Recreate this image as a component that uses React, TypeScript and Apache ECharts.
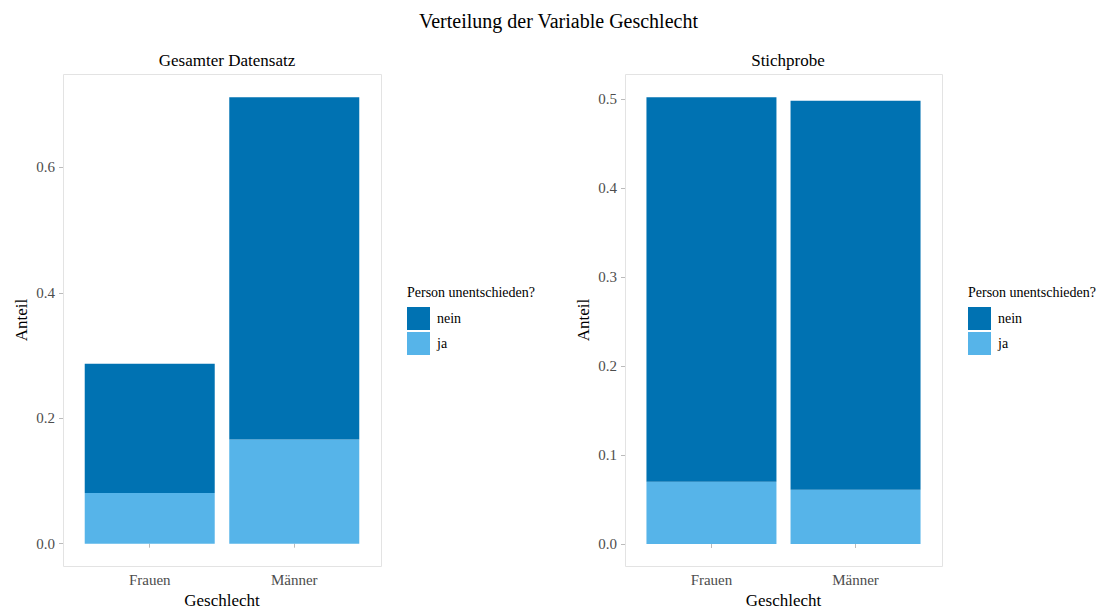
import React, { useEffect, useRef } from "react";
import * as echarts from "echarts";

const categories = ["Frauen", "Männer"];
const legendNames = ["nein", "ja"];
const gesamtJa = [0.081, 0.166];
const gesamtNein = [0.206, 0.546];
const stichJa = [0.07, 0.061];
const stichNein = [0.432, 0.437];
const gesamtTicks = [0, 0.2, 0.4, 0.6];
const stichTicks = [0, 0.1, 0.2, 0.3, 0.4, 0.5];

const DARK = "#0072B2";
const LIGHT = "#56B4E9";
const FONT = "'Liberation Serif', 'DejaVu Serif', serif";

export default function App() {
  const ref = useRef<HTMLDivElement>(null);
  useEffect(() => {
    if (!ref.current) return;
    const chart = echarts.init(ref.current, undefined, { renderer: "svg" });
    // panel frames (ggplot panels) and inner bar grids (category band centers)
    const panels = [
      { left: 63, top: 74, width: 318, height: 492 },
      { left: 625, top: 74, width: 317, height: 492 },
    ];
    const grids = panels.map((p) => {
      const unit = p.width / 2.2;
      const c1 = p.left + 0.6 * unit;
      return { left: c1 - unit / 2, top: p.top, width: unit * 2, height: p.height, offset: c1 - unit / 2 - p.left };
    });
    const yRanges = [
      { min: -0.0356, max: 0.749, ticks: gesamtTicks },
      { min: -0.0247, max: 0.528, ticks: stichTicks },
    ];
    const xAxes = grids.map((_, i) => ({
      type: "category",
      gridIndex: i,
      data: categories,
      boundaryGap: true,
      name: "Geschlecht",
      nameLocation: "middle",
      nameGap: 26,
      nameTextStyle: { fontFamily: FONT, fontSize: 17, color: "#000" },
      axisLine: { show: false },
      axisTick: { show: true, alignWithLabel: true, length: 4, lineStyle: { color: "#bbb" } },
      axisLabel: {
        fontFamily: FONT,
        fontSize: 15,
        color: "#4d4d4d",
        margin: 6,
      },
      splitLine: { show: false },
    }));
    const yAxes = yRanges.map((r, i) => ({
      type: "value",
      gridIndex: i,
      min: r.min,
      max: r.max,
      offset: grids[i].offset,
      name: "Anteil",
      nameLocation: "middle",
      nameGap: 33,
      nameTextStyle: { fontFamily: FONT, fontSize: 17, color: "#000" },
      axisLine: { show: false },
      axisTick: { show: true, customValues: r.ticks, length: 4, lineStyle: { color: "#bbb" } },
      axisLabel: {
        customValues: r.ticks,
        formatter: (v: number) => v.toFixed(1),
        fontFamily: FONT,
        fontSize: 15,
        color: "#4d4d4d",
        margin: 8,
      },
      splitLine: { show: false },
    }));
    const mk = (name: string, vals: number[], color: string, idx: number, stack: string) => ({
      name,
      type: "bar",
      xAxisIndex: idx,
      yAxisIndex: idx,
      stack,
      barWidth: 130,
      itemStyle: { color },
      data: vals,
    });
    const legendBase = (left: number) => ({
      left,
      top: 307,
      orient: "vertical",
      itemWidth: 23,
      itemHeight: 23,
      itemGap: 2,
      icon: "rect",
      data: legendNames,
      selectedMode: false,
      textStyle: { fontFamily: FONT, fontSize: 14, color: "#000", padding: [0, 0, 0, 2] },
      padding: 0,
    });
    chart.setOption({
      animation: false,
      backgroundColor: "#fff",
      title: [
        { text: "Verteilung der Variable Geschlecht", left: "center", top: 6, textStyle: { fontFamily: FONT, fontSize: 20, fontWeight: "normal", color: "#000" } },
        { text: "Gesamter Datensatz", left: 222, textAlign: "center", top: 47, textStyle: { fontFamily: FONT, fontSize: 17, fontWeight: "normal", color: "#000" } },
        { text: "Stichprobe", left: 783, textAlign: "center", top: 47, textStyle: { fontFamily: FONT, fontSize: 17, fontWeight: "normal", color: "#000" } },
      ],
      grid: grids.map((g) => ({ left: g.left, top: g.top, width: g.width, height: g.height, outerBoundsMode: "none", containLabel: false })),
      xAxis: xAxes,
      yAxis: yAxes,
      legend: [legendBase(407), legendBase(968)],
      graphic: [
        ...panels.map((p) => ({
          type: "rect",
          silent: true,
          shape: { x: p.left + 0.5, y: p.top + 0.5, width: p.width, height: p.height },
          style: { fill: "none", stroke: "#e3e3e3", lineWidth: 1 },
          z: -1,
        })),
        { type: "text", left: 407, top: 285, style: { text: "Person unentschieden?", font: `14px ${FONT}`, fill: "#000" } },
        { type: "text", left: 968, top: 285, style: { text: "Person unentschieden?", font: `14px ${FONT}`, fill: "#000" } },
      ],
      series: [
        mk("ja", gesamtJa, LIGHT, 0, "g"),
        mk("nein", gesamtNein, DARK, 0, "g"),
        mk("ja", stichJa, LIGHT, 1, "s"),
        mk("nein", stichNein, DARK, 1, "s"),
      ],
    });
    return () => chart.dispose();
  }, []);
  return <div ref={ref} style={{ position: "fixed", left: 0, top: 0, width: 1117, height: 612 }} />;
}
